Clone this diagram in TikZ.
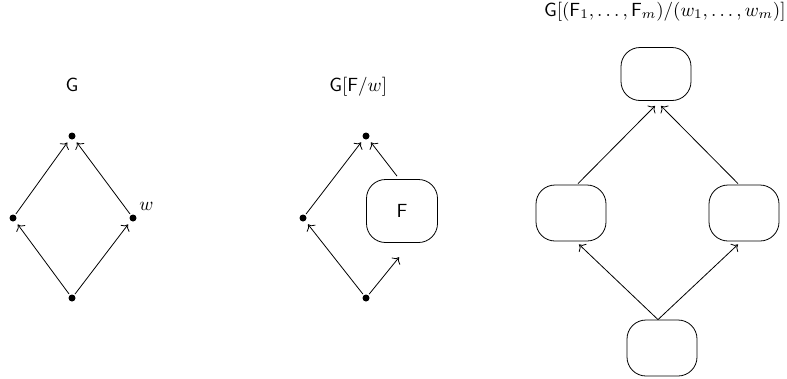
\documentclass[tikz,border=0pt]{standalone}
\usetikzlibrary{arrows.meta}
\tikzset{
  dot/.style={circle,fill=black,inner sep=0pt,minimum size=7pt,outer sep=1.5pt},
  blob/.style={draw,line width=0.8pt,rounded corners=19pt,minimum width=70pt,minimum height=56pt,inner sep=0pt},
  arr/.style={line width=0.8pt,-{To[length=5.5pt,width=11pt]},shorten >=3pt},
  lbl/.style={inner sep=0pt,scale=1.9}
}
\begin{document}
\begin{tikzpicture}[x=1pt,y=-1pt]
\useasboundingbox (0,0) rectangle (787,378);
% diagram 1
\node[lbl,anchor=base] (g1) at (72,91) {$\mathsf{G}$};
\node[dot] (t1) at (72,136) {};
\node[dot] (l1) at (13,218) {};
\node[dot] (r1) at (133,218) {};
\node[dot] (b1) at (72,298) {};
\node[lbl,anchor=base west] (w1) at (139,210) {$w$};
\draw[arr] (l1) -- (t1);
\draw[arr] (r1) -- (t1);
\draw[arr] (b1) -- (l1);
\draw[arr] (b1) -- (r1);
% diagram 2
\node[lbl,anchor=base west] (g2) at (329,91) {$\mathsf{G}[\mathsf{F}/w]$};
\node[dot] (t2) at (366,136) {};
\node[dot] (l2) at (303,218) {};
\node[dot] (b2) at (366,298) {};
\node[blob,minimum width=71pt,minimum height=63pt] (f2) at (402,211) {};
\node[lbl] (fl) at (f2.center) {$\mathsf{F}$};
\draw[arr] (l2) -- (t2);
\draw[arr] ([xshift=-5pt,yshift=3pt]f2.north) -- (t2);
\draw[arr] (b2) -- (l2);
\draw[arr] (b2) -- ([xshift=-1pt,yshift=-12pt]f2.south);
% diagram 3
\node[lbl,anchor=base east] (g3) at (786,16) {$\mathsf{G}[(\mathsf{F}_1,\ldots,\mathsf{F}_m)/(w_1,\ldots,w_m)]$};
\node[blob,minimum height=53pt] (T) at (656,74) {};
\node[blob] (L) at (571,213) {};
\node[blob] (R) at (744,213) {};
\node[blob] (B) at (662,348) {};
\draw[arr,shorten >=0pt] ([xshift=7pt,yshift=1pt]L.north) -- ([xshift=-1pt,yshift=-5pt]T.south);
\draw[arr,shorten >=0pt] ([xshift=-6pt,yshift=1pt]R.north) -- ([xshift=5pt,yshift=-5pt]T.south);
\draw[arr,shorten >=0pt] ([xshift=-4pt]B.north) -- ([xshift=8pt,yshift=-3pt]L.south);
\draw[arr,shorten >=0pt] ([xshift=-4pt]B.north) -- ([xshift=-6pt,yshift=-3pt]R.south);
\end{tikzpicture}
\end{document}
